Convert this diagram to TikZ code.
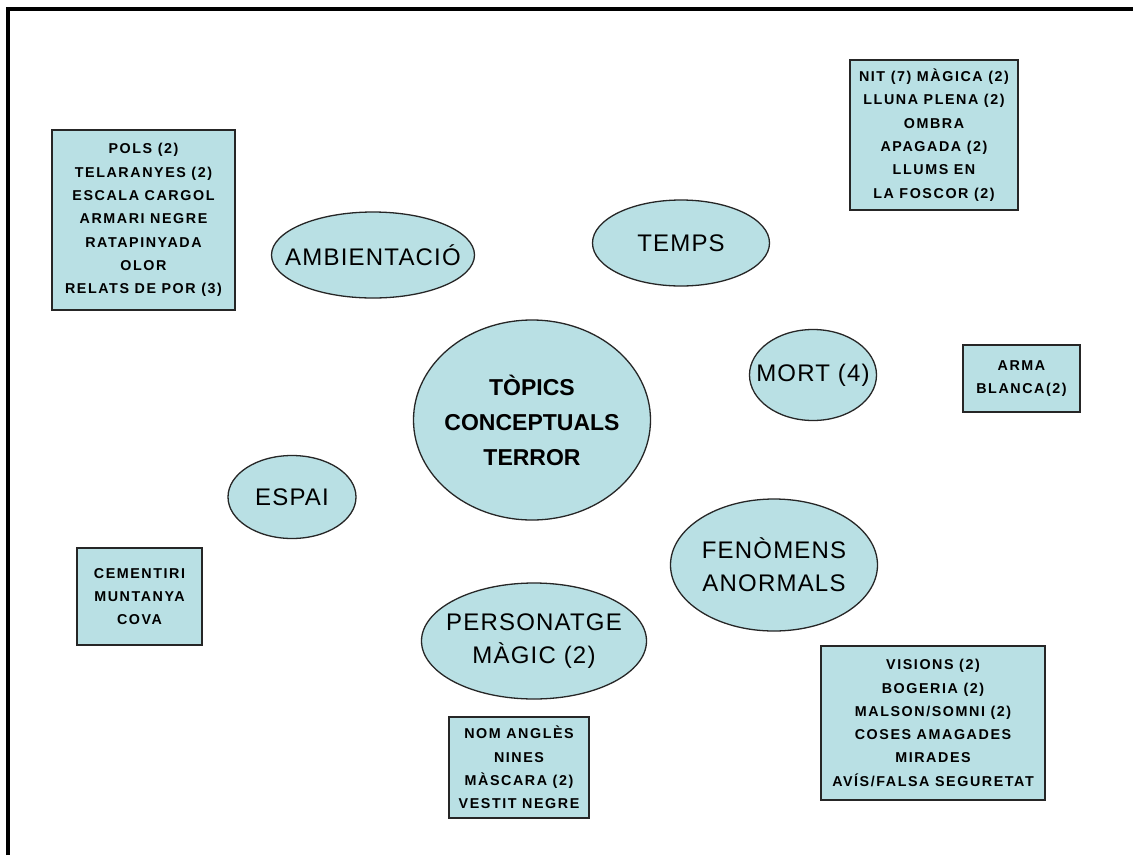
\documentclass[tikz,border=0pt]{standalone}
\usepackage{fontspec}
\setmainfont{Liberation Sans}
\newfontfamily\topicfont[LetterSpace=5]{Liberation Sans}
\newfontfamily\boxfont[LetterSpace=11]{Liberation Sans}
\usetikzlibrary{shapes.geometric}
\definecolor{topicfill}{RGB}{185,224,228}
\tikzset{
  topic/.style={ellipse, draw=black!85, line width=1.3pt, fill=topicfill,
    inner sep=-40pt, align=center,
    font=\topicfont\fontsize{24}{33}\selectfont},
  listbox/.style={rectangle, draw=black!85, line width=1.6pt, fill=topicfill,
    inner sep=0pt, align=center,
    font=\boxfont\bfseries\fontsize{14.3}{23.3}\selectfont},
}
\begin{document}
\begin{tikzpicture}[x=1pt,y=-1pt]
\useasboundingbox (0,0) rectangle (1133,855);
\fill[white] (0,0) rectangle (1133,855);
% page frame
\draw[line width=4pt] (8,855) -- (8,8.5) -- (1133,8.5);

% central topic
\node[topic, minimum width=237pt, minimum height=200pt,
      font=\bfseries\fontsize{23}{35}\selectfont] (core) at (532,420)
  {TÒPICS\\CONCEPTUALS\\TERROR};

% satellite topics
\node[topic, minimum width=203pt, minimum height=86pt] (amb) at (373,255) {AMBIENTACIÓ};
\node[topic, minimum width=177pt, minimum height=86pt] (temps) at (681,243) {TEMPS};
\node[topic, minimum width=127pt, minimum height=91pt] (mort) at (813,375) {MORT (4)};
\node[topic, minimum width=128pt, minimum height=83pt] (espai) at (292,497) {ESPAI};
\node[topic, minimum width=207pt, minimum height=132pt] (fen) at (774,565) {FENÒMENS\\ANORMALS};
\node[topic, minimum width=225pt, minimum height=116pt] (pers) at (534,641) {PERSONATGE\\MÀGIC (2)};

% lists of examples
\node[listbox, minimum width=183pt, minimum height=180pt] (lamb) at (143.5,220)
  {POLS (2)\\TELARANYES (2)\\ESCALA CARGOL\\ARMARI NEGRE\\RATAPINYADA\\OLOR\\RELATS DE POR (3)};
\node[listbox, minimum width=168pt, minimum height=150pt] (ltemps) at (934,135)
  {NIT (7) MÀGICA (2)\\LLUNA PLENA (2)\\OMBRA\\APAGADA (2)\\LLUMS EN\\LA FOSCOR (2)};
\node[listbox, minimum width=117pt, minimum height=67pt] (lmort) at (1021.5,378.5)
  {ARMA\\BLANCA(2)};
\node[listbox, minimum width=125pt, minimum height=97pt] (lespai) at (139.5,596.5)
  {CEMENTIRI\\MUNTANYA\\COVA};
\node[listbox, minimum width=140pt, minimum height=101pt] (lpers) at (519,767.5)
  {NOM ANGLÈS\\NINES\\MÀSCARA (2)\\VESTIT NEGRE};
\node[listbox, minimum width=224pt, minimum height=154pt] (lfen) at (933,723)
  {VISIONS (2)\\BOGERIA (2)\\MALSON/SOMNI (2)\\COSES AMAGADES\\MIRADES\\AVÍS/FALSA SEGURETAT};
\end{tikzpicture}
\end{document}
